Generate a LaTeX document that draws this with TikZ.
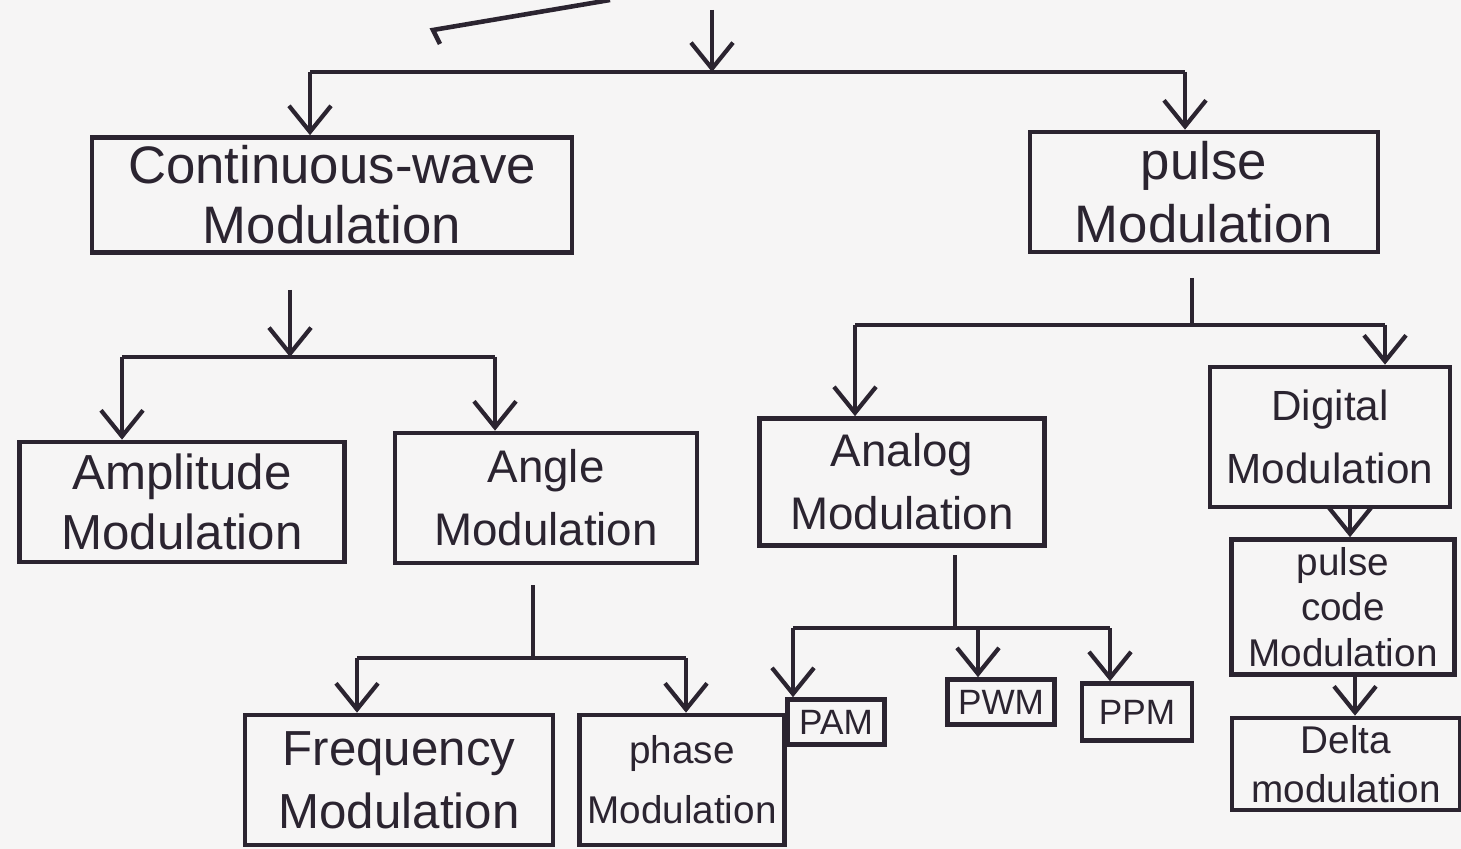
\documentclass[tikz,border=0pt]{standalone}
\usepackage{fontspec}
\setmainfont{Liberation Sans}
\usetikzlibrary{arrows.meta}
\definecolor{ink}{HTML}{2B2430}
\definecolor{paper}{HTML}{F6F5F5}
\newcommand{\fs}[2]{\fontsize{#1}{#2}\selectfont}
\tikzset{
  x=0.01cm, y=-0.01cm,
  box/.style={draw=ink, line width=1.3pt, text=ink, align=center, inner sep=0pt},
  wire/.style={draw=ink, line width=1.3pt},
  arr/.style={wire, -{Straight Barb[length=2.6mm,width=4.2mm,line width=1.2pt]}},
}
\begin{document}
\begin{tikzpicture}
\useasboundingbox[fill=paper] (0,0) rectangle (1461,849);

% partial parent outline at the top
\coordinate (p0) at (440,44);
\coordinate (p1) at (433,30);
\coordinate (p2) at (610,0);
\draw[wire] (p0) -- (p1) -- (p2);

\coordinate (root) at (712,10);
\coordinate (b1) at (712,72);
\coordinate (b1l) at (310,72);
\coordinate (b1r) at (1185,72);

\node[box, minimum width=4.8cm, minimum height=1.15cm, font=\fs{15}{17}] (cw) at (332,195) {Continuous-wave\\Modulation};
\node[box, minimum width=3.48cm, minimum height=1.2cm, font=\fs{15}{18}] (pulse) at (1204,192) {pulse\\Modulation};

\node[box, minimum width=3.25cm, minimum height=1.2cm, font=\fs{14}{17}] (amp) at (182,502) {Amplitude\\Modulation};
\node[box, minimum width=3.02cm, minimum height=1.3cm, font=\fs{13}{18}] (angle) at (546,498) {Angle\\Modulation};
\node[box, minimum width=3.08cm, minimum height=1.3cm, font=\fs{14}{18}] (freq) at (399,780) {Frequency\\Modulation};
\node[box, minimum width=2.05cm, minimum height=1.3cm, font=\fs{11}{17}] (phase) at (682,780) {phase\\Modulation};

\node[box, minimum width=2.85cm, minimum height=1.27cm, font=\fs{13}{18}] (analog) at (902,482) {Analog\\Modulation};
\node[box, minimum width=2.4cm, minimum height=1.4cm, font=\fs{12}{18}] (digital) at (1330,437) {Digital\\Modulation};

\node[box, minimum width=0.97cm, minimum height=0.45cm, font=\fs{10}{12}] (pam) at (836,722) {PAM};
\node[box, minimum width=1.07cm, minimum height=0.45cm, font=\fs{10}{12}] (pwm) at (1001,702) {PWM};
\node[box, minimum width=1.1cm, minimum height=0.57cm, font=\fs{10}{12}] (ppm) at (1137,712) {PPM};

\node[box, minimum width=2.23cm, minimum height=1.35cm, font=\fs{11}{13}] (pcm) at (1343,607) {pulse\\code\\Modulation};
\node[box, minimum width=2.28cm, minimum height=0.92cm, font=\fs{11}{14}] (delta) at (1346,764) {Delta\\modulation};

% level 1
\draw[arr] (root) -- (b1);
\draw[wire] (b1l) -- (b1r);
\draw[arr] (b1l) -- (b1l |- cw.north);
\draw[arr] (b1r) -- (b1r |- pulse.north);

% continuous wave
\coordinate (c0) at (290,290);
\coordinate (c1) at (290,357);
\coordinate (c1l) at (122,357);
\coordinate (c1r) at (495,357);
\draw[arr] (c0) -- (c1);
\draw[wire] (c1l) -- (c1r);
\draw[arr] (c1l) -- (c1l |- amp.north);
\draw[arr] (c1r) -- (c1r |- angle.north);

% angle
\coordinate (a0) at (533,585);
\coordinate (a1) at (533,658);
\coordinate (a1l) at (357,658);
\coordinate (a1r) at (686,658);
\draw[wire] (a0) -- (a1);
\draw[wire] (a1l) -- (a1r);
\draw[arr] (a1l) -- (a1l |- freq.north);
\draw[arr] (a1r) -- (a1r |- phase.north);

% pulse
\coordinate (q0) at (1192,278);
\coordinate (q1) at (1192,325);
\coordinate (q1l) at (855,325);
\coordinate (q1r) at (1385,325);
\draw[wire] (q0) -- (q1);
\draw[wire] (q1l) -- (q1r);
\draw[arr] (q1l) -- (q1l |- analog.north);
\draw[arr] (q1r) -- (q1r |- digital.north);

% analog
\coordinate (n0) at (955,555);
\coordinate (n1) at (955,628);
\coordinate (n1l) at (793,628);
\coordinate (n1m) at (978,628);
\coordinate (n1r) at (1110,628);
\draw[wire] (n0) -- (n1);
\draw[wire] (n1l) -- (n1r);
\draw[arr] (n1l) -- (n1l |- pam.north);
\draw[arr] (n1m) -- (n1m |- pwm.north);
\draw[arr] (n1r) -- (n1r |- ppm.north);

% digital chain
\draw[arr] (digital.south -| 1350,0) -- (pcm.north -| 1350,0);
\draw[arr] (pcm.south -| 1355,0) -- (delta.north -| 1355,0);
\end{tikzpicture}
\end{document}
